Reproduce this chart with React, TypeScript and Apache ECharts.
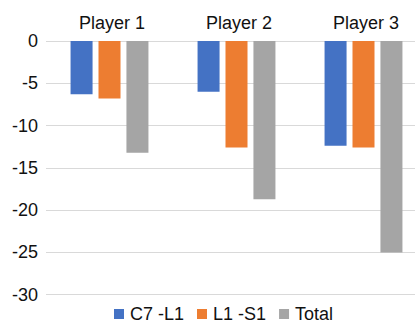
import React, { useEffect, useRef } from "react";
import * as echarts from "echarts";

// Players shown along the top axis
const players = ["Player 1", "Player 2", "Player 3"];

// Segment values per player
const c7L1 = [-6.3, -6.0, -12.4];
const l1S1 = [-6.8, -12.6, -12.6];
const total = [-13.2, -18.7, -25.0];

const seriesNames = ["C7 -L1", "L1 -S1", "Total"];

const FONT = "'Liberation Sans', Arial, sans-serif";

export default function App() {
  const ref = useRef<HTMLDivElement>(null);

  useEffect(() => {
    if (!ref.current) return;
    const chart = echarts.init(ref.current, undefined, { renderer: "svg" });
    chart.setOption({
      animation: false,
      color: ["#4472C4", "#ED7D31", "#A5A5A5"],
      textStyle: { fontFamily: FONT },
      // the chart canvas is wider than the visible frame; the plot runs past its right edge
      grid: { left: 46, right: 3, top: 41, bottom: 28.3, containLabel: false },
      legend: {
        data: seriesNames,
        left: 114,
        top: 305,
        padding: 0,
        icon: "rect",
        itemWidth: 10,
        itemHeight: 10,
        itemGap: 13,
        textStyle: {
          fontSize: 18,
          lineHeight: 14,
          color: "#111",
          fontFamily: FONT,
          padding: [0, 0, 0, 1],
        },
      },
      xAxis: {
        type: "category",
        data: players,
        position: "top",
        axisLine: { show: false },
        axisTick: { show: false },
        axisLabel: {
          fontSize: 18,
          color: "#111",
          fontFamily: FONT,
          margin: 9,
          padding: [0, 0, 0, 5],
        },
      },
      yAxis: {
        type: "value",
        min: -30,
        max: 0,
        interval: 5,
        axisLine: { show: false },
        axisTick: { show: false },
        axisLabel: { fontSize: 18, color: "#111", fontFamily: FONT, margin: 8 },
        splitLine: { lineStyle: { color: "#d9d9d9", width: 1 } },
      },
      series: [
        { name: seriesNames[0], type: "bar", data: c7L1, barWidth: 22, barGap: "27%" },
        { name: seriesNames[1], type: "bar", data: l1S1, barWidth: 22, barGap: "27%" },
        { name: seriesNames[2], type: "bar", data: total, barWidth: 22, barGap: "27%" },
      ],
    });
    return () => chart.dispose();
  }, []);

  return (
    <div
      style={{
        position: "absolute",
        left: 0,
        top: 0,
        width: 415,
        height: 323,
        overflow: "hidden",
        background: "#fff",
      }}
    >
      <div ref={ref} style={{ width: 430, height: 323 }} />
    </div>
  );
}
